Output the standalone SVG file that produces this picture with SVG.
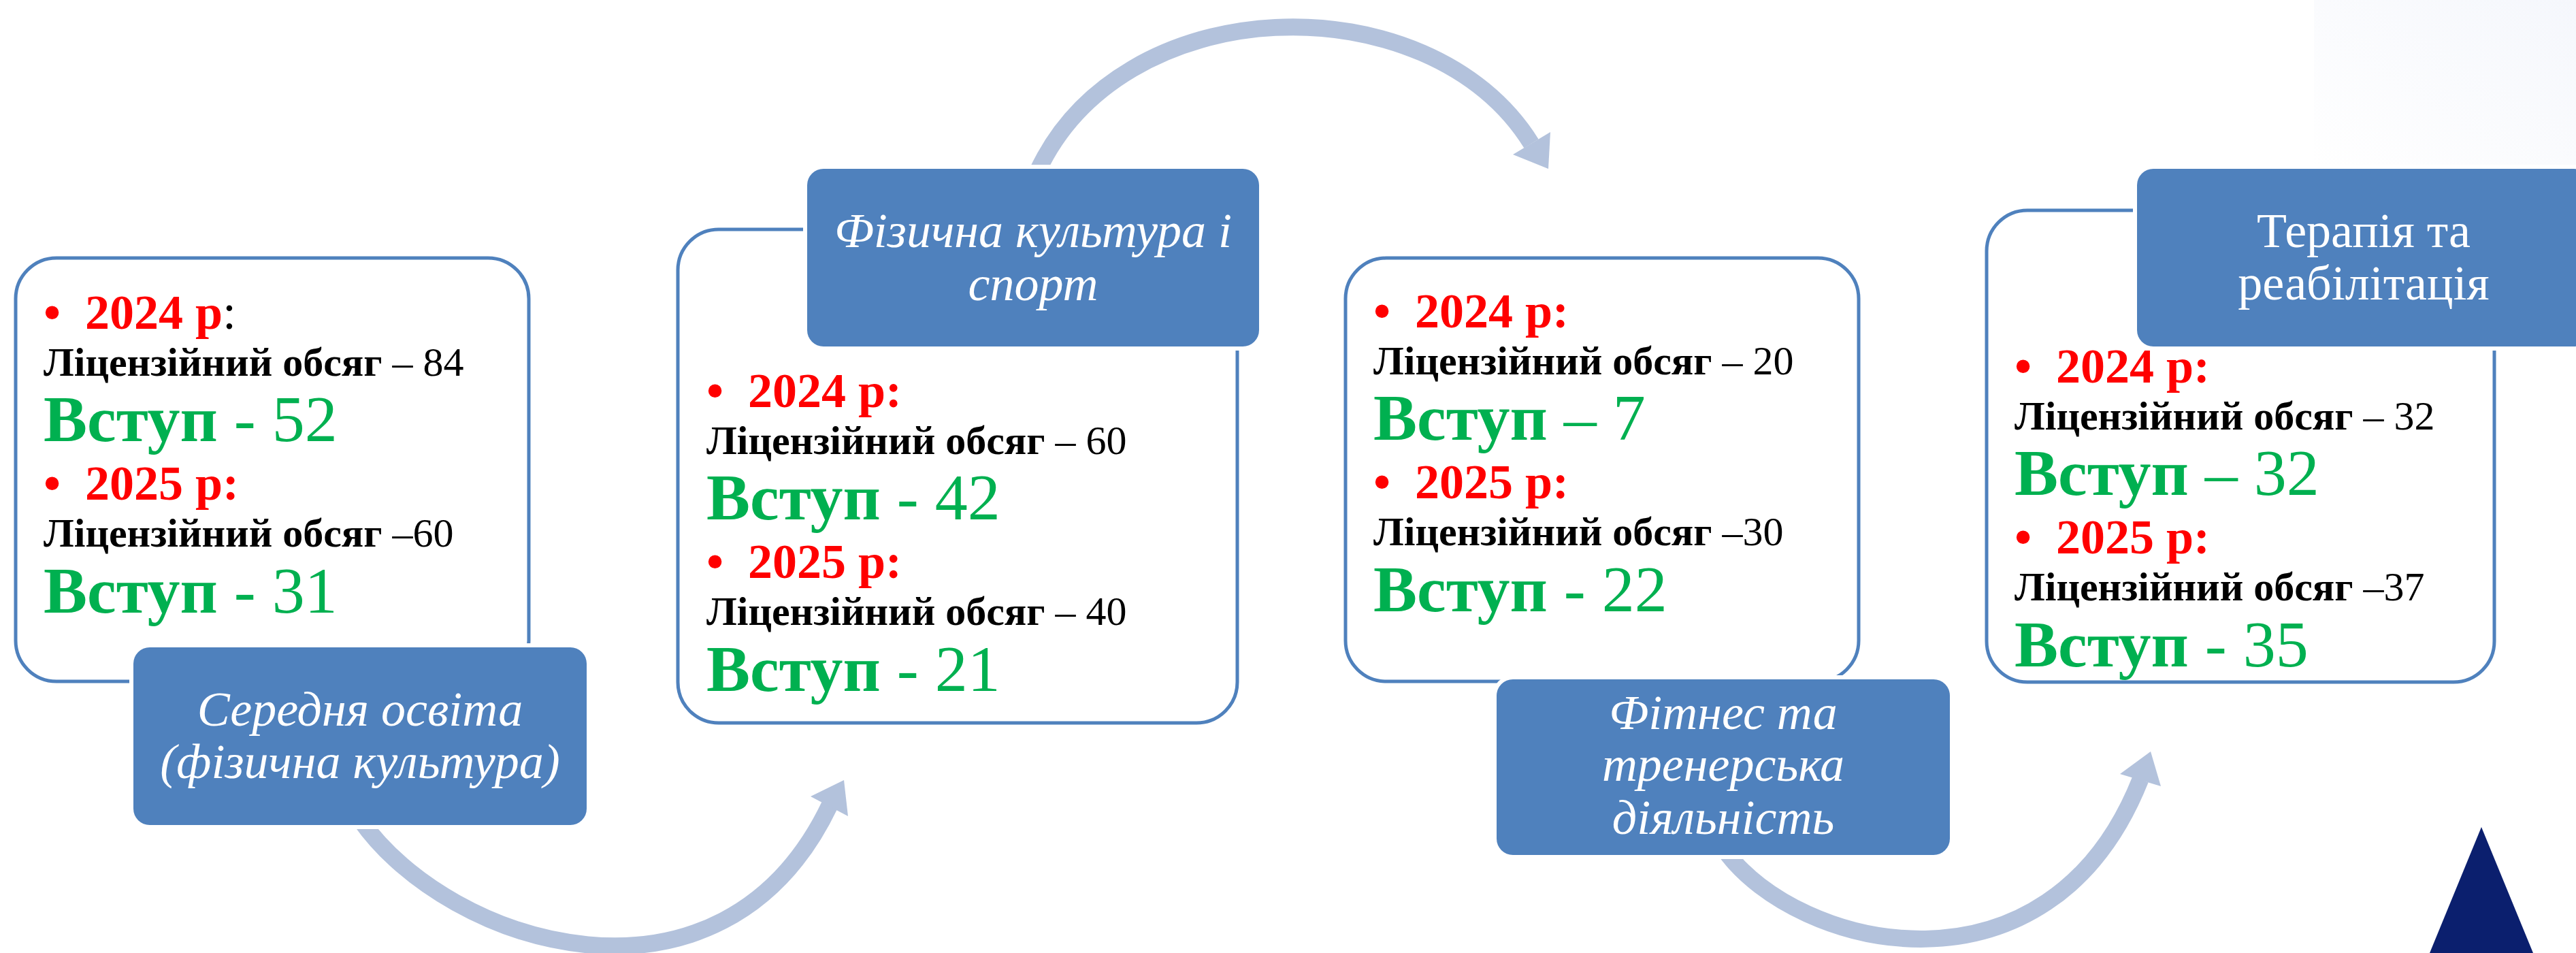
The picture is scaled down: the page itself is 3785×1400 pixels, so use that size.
<svg xmlns="http://www.w3.org/2000/svg" width="3785" height="1400" viewBox="0 0 3785 1400">
<defs>
<style>
.frame{fill:#ffffff;stroke:#4f81bd;stroke-width:5}
.halo{fill:#ffffff}
.title{fill:#4f81bd}
.tt{font-family:"Liberation Serif","Times New Roman",serif;font-size:72px;fill:#ffffff;text-anchor:middle}
.it{font-style:italic}
.t{font-family:"Liberation Serif","Times New Roman",serif}
.yr{font-size:72px;font-weight:bold;fill:#ff0000}
.lic{font-size:60px;fill:#000000}
.vs{font-size:96px;fill:#00b050}
.b{font-weight:bold}
.n{font-weight:normal}
.arc{fill:none;stroke:#b3c2dc;stroke-width:25}
.head{fill:#b3c2dc}
</style>
<linearGradient id="bg" x1="0" y1="1" x2="1" y2="0">
<stop offset="0" stop-color="#ffffff"/>
<stop offset="1" stop-color="#f5f7fc"/>
</linearGradient>
</defs>
<rect x="0" y="0" width="3785" height="1400" fill="#ffffff"/>
<rect x="3400" y="0" width="385" height="245" fill="url(#bg)"/>
<polygon points="3646,1215 3570,1400 3722,1400" fill="#0b1f6e"/>

<g id="connectors">
<path class="arc" d="M530,1205 C660,1390 1060,1515 1219,1183"/>
<polygon class="head" points="1240,1146 1191,1170 1246,1199"/>
<path class="arc" d="M1520,262 C1640,-20 2100,-30 2250,211"/>
<polygon class="head" points="2275,248 2223,227 2278,194"/>
<path class="arc" d="M2535,1250 C2640,1395 3010,1485 3145,1145"/>
<polygon class="head" points="3160,1104 3115,1137 3175,1155"/>
</g>

<g id="node1">
<rect class="frame" x="23" y="379" width="754" height="622" rx="60"/>
<text class="t yr" x="64" y="483">•</text>
<text class="t yr" x="125" y="483">2024 р<tspan fill="#000000" class="n">:</tspan></text>
<text class="t lic" x="64" y="552"><tspan class="b">Ліцензійний обсяг</tspan> – 84</text>
<text class="t vs" x="64" y="648"><tspan class="b">Вступ</tspan> - 52</text>
<text class="t yr" x="64" y="734">•</text>
<text class="t yr" x="125" y="734">2025 р:</text>
<text class="t lic" x="64" y="803"><tspan class="b">Ліцензійний обсяг</tspan> –60</text>
<text class="t vs" x="64" y="900"><tspan class="b">Вступ</tspan> - 31</text>
<rect class="halo" x="190" y="945" width="678" height="273" rx="30"/>
<rect class="title" x="196" y="951" width="666" height="261" rx="24"/>
<text class="tt it" x="529" y="1066">Середня освіта</text>
<text class="tt it" x="529" y="1143">(фізична культура)</text>
</g>

<g id="node2">
<rect class="frame" x="996" y="337" width="822" height="725" rx="60"/>
<rect class="halo" x="1180" y="242" width="676" height="273" rx="30"/>
<rect class="title" x="1186" y="248" width="664" height="261" rx="24"/>
<text class="tt it" x="1518" y="363">Фізична культура і</text>
<text class="tt it" x="1518" y="441">спорт</text>
<text class="t yr" x="1038" y="598">•</text>
<text class="t yr" x="1099" y="598">2024 р:</text>
<text class="t lic" x="1038" y="667"><tspan class="b">Ліцензійний обсяг</tspan> – 60</text>
<text class="t vs" x="1038" y="763"><tspan class="b">Вступ</tspan> - 42</text>
<text class="t yr" x="1038" y="849">•</text>
<text class="t yr" x="1099" y="849">2025 р:</text>
<text class="t lic" x="1038" y="918"><tspan class="b">Ліцензійний обсяг</tspan> – 40</text>
<text class="t vs" x="1038" y="1015"><tspan class="b">Вступ</tspan> - 21</text>
</g>

<g id="node3">
<rect class="frame" x="1977" y="379" width="754" height="622" rx="60"/>
<text class="t yr" x="2018" y="481">•</text>
<text class="t yr" x="2079" y="481">2024 р:</text>
<text class="t lic" x="2018" y="550"><tspan class="b">Ліцензійний обсяг</tspan> – 20</text>
<text class="t vs" x="2018" y="646"><tspan class="b">Вступ</tspan> – 7</text>
<text class="t yr" x="2018" y="732">•</text>
<text class="t yr" x="2079" y="732">2025 р:</text>
<text class="t lic" x="2018" y="801"><tspan class="b">Ліцензійний обсяг</tspan> –30</text>
<text class="t vs" x="2018" y="898"><tspan class="b">Вступ</tspan> - 22</text>
<rect class="halo" x="2193" y="992" width="678" height="270" rx="30"/>
<rect class="title" x="2199" y="998" width="666" height="258" rx="24"/>
<text class="tt it" x="2532" y="1071">Фітнес та</text>
<text class="tt it" x="2532" y="1147">тренерська</text>
<text class="tt it" x="2532" y="1225">діяльність</text>
</g>

<g id="node4">
<rect class="frame" x="2919" y="309" width="746" height="693" rx="60"/>
<rect class="halo" x="3134" y="242" width="678" height="273" rx="30"/>
<rect class="title" x="3140" y="248" width="666" height="261" rx="24"/>
<text class="tt" x="3473" y="363">Терапія та</text>
<text class="tt" x="3473" y="440">реабілітація</text>
<text class="t yr" x="2960" y="562">•</text>
<text class="t yr" x="3021" y="562">2024 р:</text>
<text class="t lic" x="2960" y="631"><tspan class="b">Ліцензійний обсяг</tspan> – 32</text>
<text class="t vs" x="2960" y="727"><tspan class="b">Вступ</tspan> – 32</text>
<text class="t yr" x="2960" y="813">•</text>
<text class="t yr" x="3021" y="813">2025 р:</text>
<text class="t lic" x="2960" y="882"><tspan class="b">Ліцензійний обсяг</tspan> –37</text>
<text class="t vs" x="2960" y="979"><tspan class="b">Вступ</tspan> - 35</text>
</g>
</svg>
